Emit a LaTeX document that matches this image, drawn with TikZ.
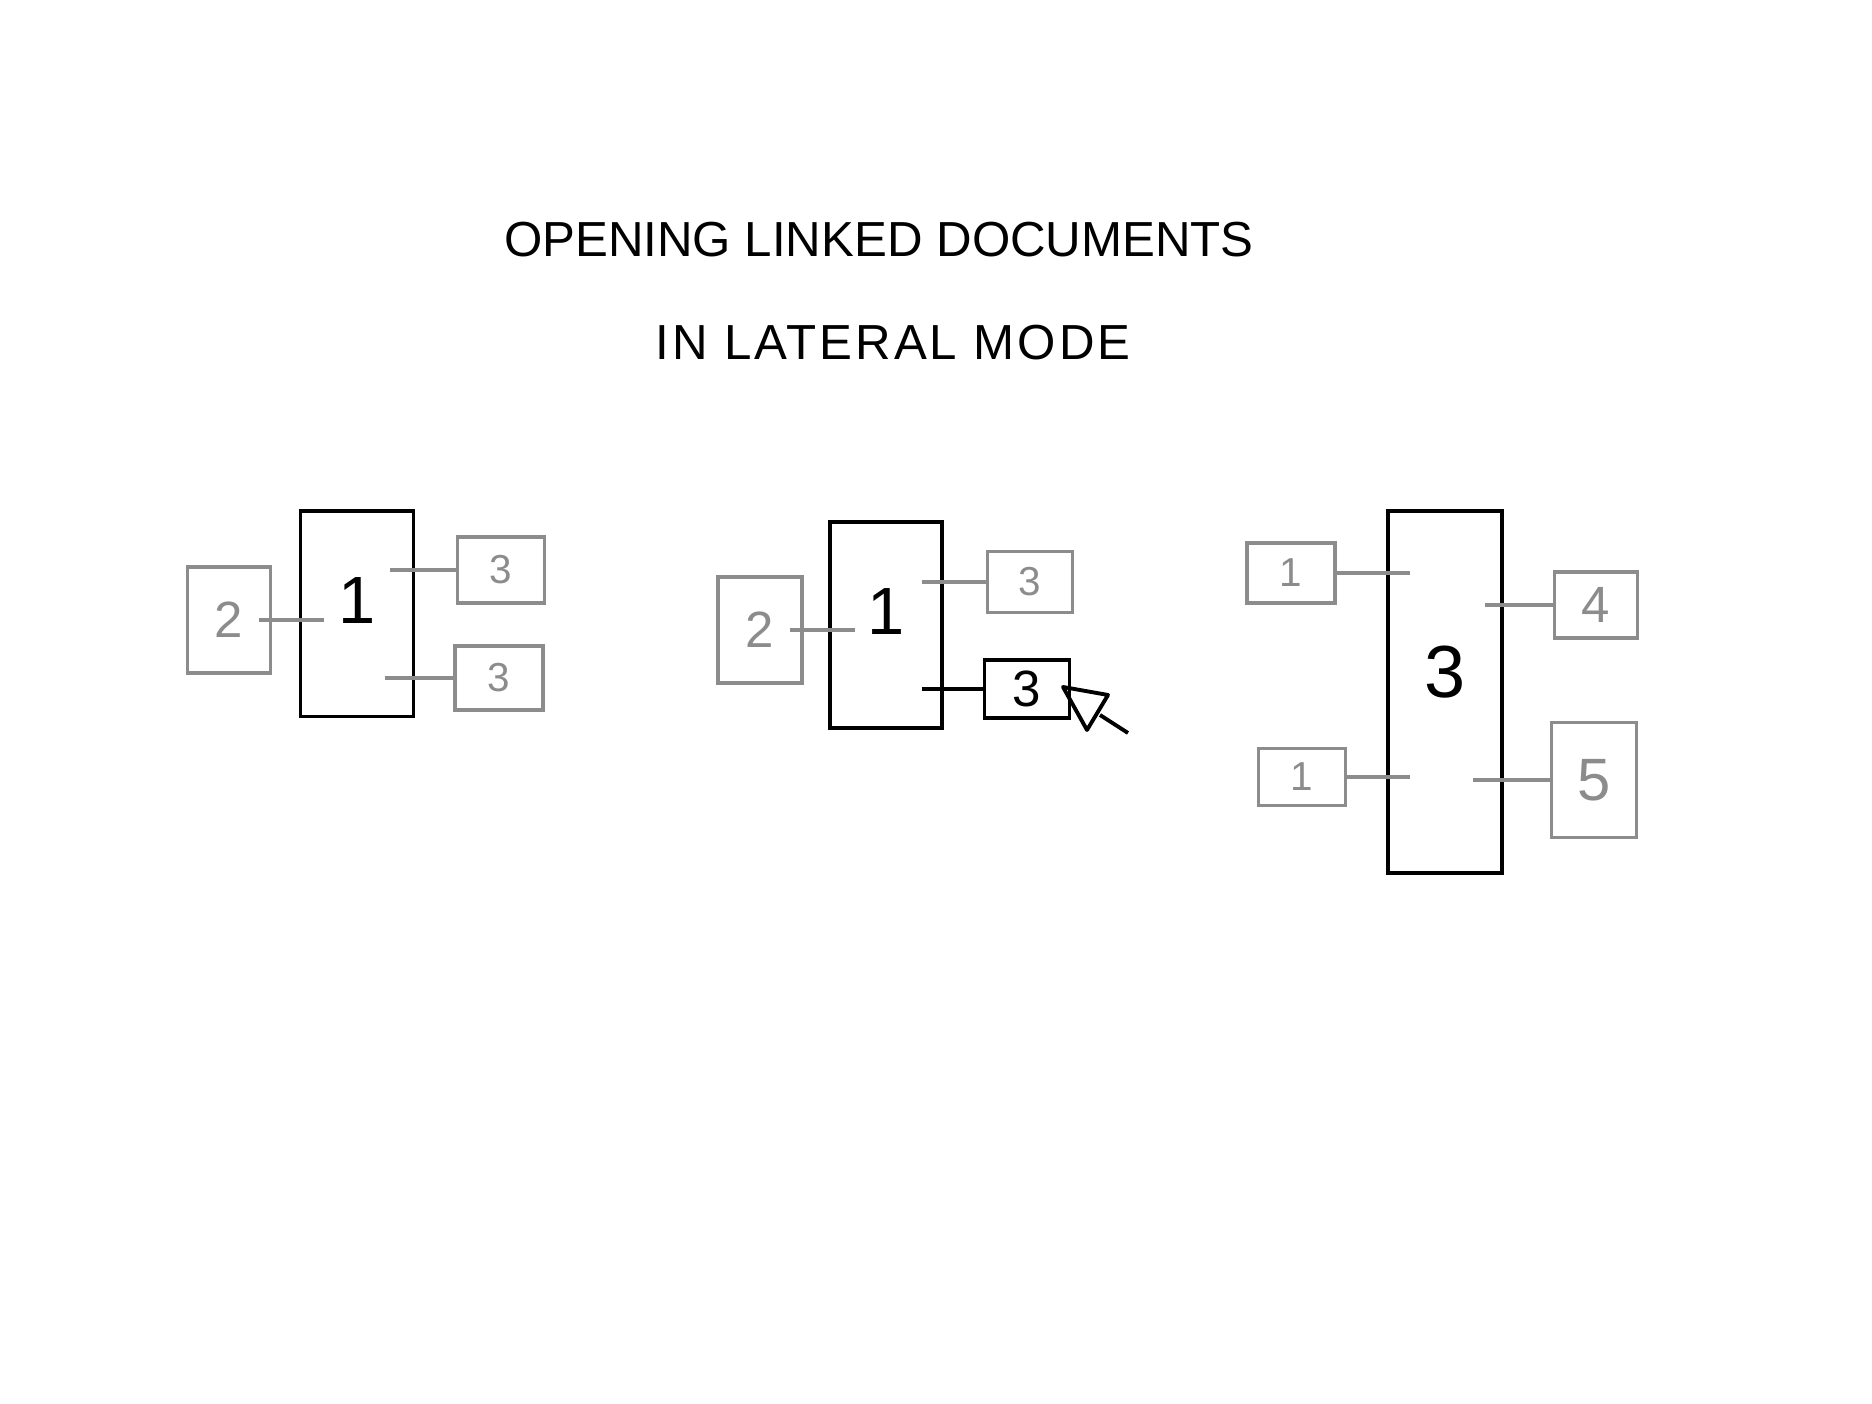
\documentclass[tikz,border=0pt]{standalone}
\usepackage{fontspec}
\setmainfont{Liberation Sans}
\usetikzlibrary{positioning}
\colorlet{linkgray}{black!45}

\begin{document}
\begin{tikzpicture}[
    x=0.01cm, y=-0.01cm,
    doc/.style={rectangle, draw=black, line width=1.1pt, inner sep=0pt},
    ghost/.style={doc, draw=linkgray, text=linkgray},
    link/.style={draw=linkgray, line width=1.1pt},
    openlink/.style={draw=black, line width=1.1pt, line join=round},
    headline/.style={font=\fontsize{14}{16}\selectfont},
    bignum/.style={font=\fontsize{19}{19}\selectfont},
    midnum/.style={font=\fontsize{14.5}{15}\selectfont},
    smallnum/.style={font=\fontsize{11.5}{12}\selectfont}
]
    \useasboundingbox (0,0) rectangle (1872,1404);

    % title
    \node[headline] (head1) at (879, 240) {OPENING LINKED DOCUMENTS};
    \node[headline] (head2) at (893, 343) {\addfontfeature{LetterSpace=6}IN LATERAL MODE};

    % left: document 1 with its links
    \node[doc, minimum width=1.13cm, minimum height=2.05cm] (one) at (357, 614) {};
    \node[bignum] (onelbl) at ([yshift=0.13cm]one.center) {1};
    \node[ghost, midnum, minimum width=0.83cm, minimum height=1.06cm] (two) at (229, 620) {2};
    \node[ghost, smallnum, minimum width=0.87cm, minimum height=0.66cm] (threeA) at (501, 570) {3};
    \node[ghost, smallnum, minimum width=0.88cm, minimum height=0.64cm] (threeB) at (499, 678) {3};

    \draw[link] ([xshift=-0.13cm]two.east) -- ([xshift=0.25cm]two.east -| one.west);
    \draw[link] ([xshift=-0.25cm]one.east |- threeA.west) -- (threeA.west);
    \draw[link] ([xshift=-0.30cm]one.east |- threeB.west) -- (threeB.west);

    % middle: clicking a link
    \node[doc, minimum width=1.12cm, minimum height=2.06cm] (oneM) at (886, 625) {};
    \node[bignum] (oneMlbl) at ([yshift=0.13cm]oneM.center) {1};
    \node[ghost, midnum, minimum width=0.84cm, minimum height=1.06cm] (twoM) at (760, 630) {2};
    \node[ghost, smallnum, minimum width=0.85cm, minimum height=0.61cm] (threeMA) at (1030, 582) {3};
    \node[doc, midnum, minimum width=0.85cm, minimum height=0.58cm] (threeMB) at (1027, 689) {3};

    \draw[link] ([xshift=-0.14cm]twoM.east) -- ([xshift=0.27cm]twoM.east -| oneM.west);
    \draw[link] ([xshift=-0.22cm]oneM.east |- threeMA.west) -- (threeMA.west);
    \draw[openlink] ([xshift=-0.22cm]oneM.east |- threeMB.west) -- (threeMB.west);

    % mouse pointer
    \draw[openlink] (1063, 687) -- (1108, 695) -- (1087, 730) -- cycle;
    \draw[openlink] (1100, 715) -- (1128, 733);

    % right: document 3 opened
    \node[doc, minimum width=1.14cm, minimum height=3.61cm] (three) at (1445, 692) {};
    \node[font=\fontsize{21}{21}\selectfont] (threelbl) at ([yshift=0.2cm]three.center) {3};
    \node[ghost, smallnum, minimum width=0.88cm, minimum height=0.60cm] (oneA) at (1291, 573) {1};
    \node[ghost, midnum, minimum width=0.83cm, minimum height=0.66cm] (four) at (1596, 605) {4};
    \node[ghost, smallnum, minimum width=0.87cm, minimum height=0.57cm] (oneB) at (1302, 777) {1};
    \node[ghost, font=\fontsize{17}{17}\selectfont, minimum width=0.85cm, minimum height=1.15cm] (five) at (1594, 780) {5};

    \draw[link] (oneA.east) -- ([xshift=0.24cm]oneA.east -| three.west);
    \draw[link] ([xshift=-0.19cm]three.east |- four.west) -- (four.west);
    \draw[link] (oneB.east) -- ([xshift=0.24cm]oneB.east -| three.west);
    \draw[link] ([xshift=-0.31cm]three.east |- five.west) -- (five.west);

\end{tikzpicture}
\end{document}
